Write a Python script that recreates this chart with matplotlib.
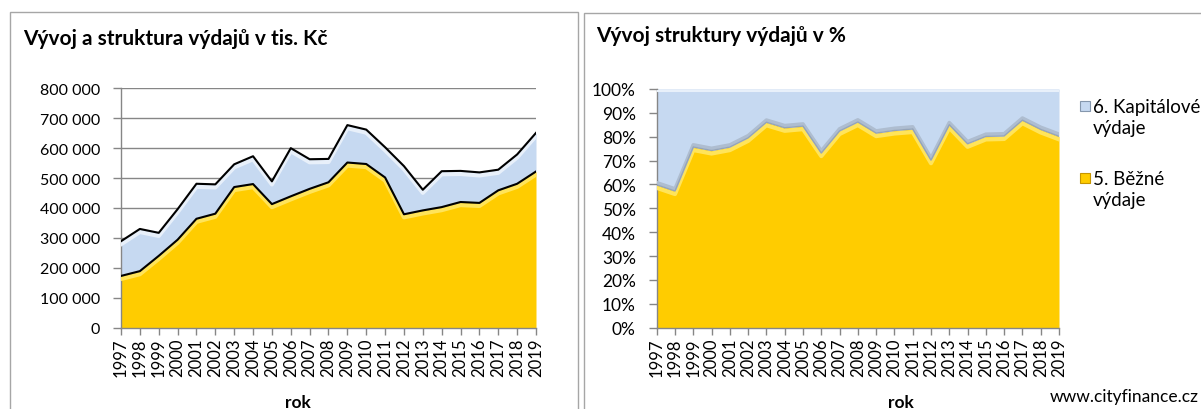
"""Vývoj a struktura výdajů - two panel area chart (tis. Kč and %)."""

import matplotlib

matplotlib.use("Agg")

import matplotlib.patheffects as pe
import matplotlib.pyplot as plt
import numpy as np
from matplotlib.patches import Rectangle
from matplotlib.ticker import FuncFormatter, MultipleLocator


YEARS = list(range(1997, 2020))

# 5. Běžné výdaje (tis. Kč)
BEZNE = [173000, 189000, 240000, 294000, 364000, 381000, 470000, 480000,
         413000, 439000, 464000, 486000, 552000, 547000, 502000, 379000,
         392000, 403000, 420000, 417000, 459000, 481000, 522000]

# celkové výdaje (tis. Kč) = běžné + kapitálové
CELKEM = [289000, 330000, 317000, 396000, 481000, 479000, 546000, 573000,
          489000, 600000, 563000, 564000, 677000, 662000, 603000, 540000,
          461000, 523000, 524000, 519000, 528000, 579000, 651000]

LABEL_KAP = "6. Kapitálové\nvýdaje"
LABEL_BEZ = "5. Běžné\nvýdaje"
TITLE_LEFT = "Vývoj a struktura výdajů v tis. Kč"
TITLE_RIGHT = "Vývoj struktury výdajů v %"

YELLOW = "#FFCC00"
YELLOW_LIGHT = "#FFE45A"
BLUE = "#C6D9F1"
BLUE_LIGHT = "#E8F0FA"
BLUE_SHADOW = "#AEBDD0"
GRAY = "#868686"
FRAME = "#A6A6A6"

W, H = 1201, 410
FONT = "Lato"
YTICK_SIZE = 11.5
XTICK_SIZE = 12
TEXT_SIZE = 13.5

plt.rcParams["font.family"] = [FONT, "DejaVu Sans"]


def fig_box(x0, y0, x1, y1):
    """Pixel box (top-left origin) -> figure fraction rect."""
    return [x0 / W, 1 - y1 / H, (x1 - x0) / W, (y1 - y0) / H]


def style_axis(ax, ysize):
    for side in ("top", "right"):
        ax.spines[side].set_visible(False)
    for side in ("left", "bottom"):
        ax.spines[side].set_color(GRAY)
        ax.spines[side].set_linewidth(1.0)
    ax.tick_params(axis="both", colors=GRAY, labelcolor="black",
                   direction="out", width=1.0)
    ax.tick_params(axis="y", length=6, pad=9, labelsize=ysize)
    ax.tick_params(axis="x", length=5, pad=2, labelsize=XTICK_SIZE)
    ax.set_xticks(YEARS)
    ax.set_xticklabels([str(y) for y in YEARS], rotation=90)
    ax.set_xlim(YEARS[0], YEARS[-1])


def highlight(ax, x, y, color, width=3.0, dy=-2.2):
    """Shifted band along an edge, imitating the bevel effect."""
    ax.plot(x, y, color=color, lw=width, solid_joinstyle="round",
            path_effects=[pe.SimpleLineShadow(offset=(0, dy), shadow_color=color,
                                              alpha=1.0)],
            alpha=0.0, zorder=3)


def legend_entry(fig, x_px, y_px, face, edge, label):
    """Excel-like legend entry: square aligned with the first text line."""
    size = 10
    fig.patches.append(Rectangle((x_px / W, 1 - (y_px + size / 2) / H),
                                 size / W, size / H, transform=fig.transFigure,
                                 facecolor=face, edgecolor=edge, lw=0.8))
    fig.text((x_px + size + 3) / W, 1 - (y_px - 8) / H, label,
             fontsize=TEXT_SIZE, ha="left", va="top", linespacing=1.3)


def main() -> None:
    x = np.array(YEARS)
    bezne = np.array(BEZNE, dtype=float)
    celkem = np.array(CELKEM, dtype=float)
    kapital = celkem - bezne

    fig = plt.figure(figsize=(W / 100, H / 100), dpi=100)

    # panel frames
    fig.patches.append(Rectangle((9.5 / W, -0.05), (578 - 9.5) / W, 1.05 - 12.5 / H,
                                 transform=fig.transFigure, fill=False,
                                 edgecolor=FRAME, lw=1.0))
    fig.patches.append(Rectangle((584 / W, -0.05), 0.6, 1.05 - 13.5 / H,
                                 transform=fig.transFigure, fill=False,
                                 edgecolor=FRAME, lw=1.0))

    # ---- left: absolute values
    ax1 = fig.add_axes(fig_box(121, 89.3, 536, 328.7))
    style_axis(ax1, YTICK_SIZE)
    ax1.set_ylim(0, 800000)
    ax1.yaxis.set_major_locator(MultipleLocator(100000))
    ax1.yaxis.set_major_formatter(
        FuncFormatter(lambda v, _: f"{int(v):,}".replace(",", " ")))
    ax1.grid(axis="y", color=GRAY, lw=1.0, zorder=0)
    ax1.set_axisbelow(True)

    ax1.fill_between(x, 0, bezne, color=YELLOW, lw=0, zorder=2)
    ax1.fill_between(x, bezne, bezne + kapital, color=BLUE, lw=0, zorder=2)
    highlight(ax1, x, bezne, YELLOW_LIGHT)
    highlight(ax1, x, bezne + kapital, BLUE_LIGHT)
    ax1.plot(x, bezne, color="black", lw=1.5, zorder=4)
    ax1.plot(x, bezne + kapital, color="black", lw=1.5, zorder=4)

    fig.text(23 / W, 1 - 39 / H, TITLE_LEFT, fontsize=15, fontweight="bold",
             va="center", ha="left")
    fig.text(298 / W, 1 - 403 / H, "rok", fontsize=12.5, fontweight="bold",
             ha="center", va="center")

    # ---- right: structure in %
    ax2 = fig.add_axes(fig_box(656.7, 90, 1059, 328.7))
    style_axis(ax2, 12.5)
    share_bez = bezne / celkem * 100
    share_kap = kapital / celkem * 100
    ax2.set_ylim(0, 100)
    ax2.yaxis.set_major_locator(MultipleLocator(10))
    ax2.yaxis.set_major_formatter(FuncFormatter(lambda v, _: f"{int(v)}%"))

    ax2.fill_between(x, 0, share_bez, color=YELLOW, lw=0, zorder=2)
    ax2.fill_between(x, share_bez, share_bez + share_kap, color=BLUE, lw=0, zorder=2)
    highlight(ax2, x, share_bez, YELLOW_LIGHT)
    highlight(ax2, x, share_bez, BLUE_SHADOW, width=2.5, dy=1.6)
    highlight(ax2, x, share_bez + share_kap, BLUE_LIGHT, width=1.5, dy=-1.2)
    ax2.plot(x, share_bez, color="#95A4B8", lw=1.0, zorder=4)

    legend_entry(fig, 1080, 107, BLUE, "#8597AD", LABEL_KAP)
    legend_entry(fig, 1080, 179, YELLOW, "#C69500", LABEL_BEZ)

    fig.text(596 / W, 1 - 36 / H, TITLE_RIGHT, fontsize=15, fontweight="bold",
             va="center", ha="left")
    fig.text(901 / W, 1 - 403 / H, "rok", fontsize=12.5, fontweight="bold",
             ha="center", va="center")
    fig.text(1199 / W, 1 - 397 / H, "www.cityfinance.cz", fontsize=12.5,
             ha="right", va="center")

    fig.savefig("out.png", dpi=100)
    plt.close(fig)


if __name__ == "__main__":
    main()
